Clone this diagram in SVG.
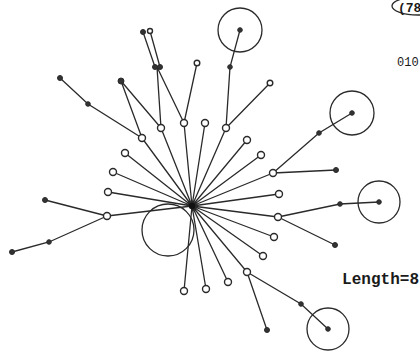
<svg xmlns="http://www.w3.org/2000/svg" width="420" height="351" viewBox="0 0 420 351">
<style>
.e{stroke:#2a2a2a;stroke-width:1.3;fill:none}
.o{fill:#fff;stroke:#2a2a2a;stroke-width:1.4}
.f{fill:#333;stroke:#2a2a2a;stroke-width:1}
.ring{fill:none;stroke:#2a2a2a;stroke-width:1.3}
.t{font-family:"Liberation Mono","DejaVu Sans Mono",monospace;fill:#1a1a1a}
</style>
<rect width="420" height="351" fill="#fff"/>
<g id="connectors">
<path class="e" d="M192,206L142,138M192,206L161,128M192,206L184,123M192,206L205,123M192,206L226,128M192,206L247,140M192,206L261,155M192,206L273,173M192,206L279,194M192,206L278,217M192,206L274,237M192,206L263,256M192,206L247,272M192,206L228,282M192,206L206,289M192,206L184,291M192,206L107,216M192,206L108,192M192,206L113,172M192,206L125,153"/>
<path class="e" d="M142,138L88,104L60,78M142,138L121,81L161,128M161,128L157,67M184,123L157,67M184,123L197,63M155,67L143,32M160,67L150,31M226,128L230,67L240,30M226,128L270,83M273,173L319,133L352,113M273,173L336,170M278,217L340,204L379,202M278,217L335,245M247,272L301,304L328,329M247,272L267,330M107,216L45,200M107,216L49,242L12,252"/>
</g>
<g id="big-loop"><circle class="ring" cx="168" cy="230" r="26"/></g>
<g id="hub"><circle cx="192" cy="206" r="3.2" fill="#111"/></g>
<g id="n1"><circle class="o" cx="142" cy="138" r="3.5"/></g>
<g id="n2"><circle class="o" cx="161" cy="128" r="3.5"/></g>
<g id="n3"><circle class="o" cx="184" cy="123" r="3.5"/></g>
<g id="n4"><circle class="o" cx="205" cy="123" r="3.5"/></g>
<g id="n5"><circle class="o" cx="226" cy="128" r="3.5"/></g>
<g id="n6"><circle class="o" cx="247" cy="140" r="3.5"/></g>
<g id="n7"><circle class="o" cx="261" cy="155" r="3.5"/></g>
<g id="n8"><circle class="o" cx="273" cy="173" r="3.5"/></g>
<g id="n9"><circle class="o" cx="279" cy="194" r="3.5"/></g>
<g id="n10"><circle class="o" cx="278" cy="217" r="3.5"/></g>
<g id="n11"><circle class="o" cx="274" cy="237" r="3.5"/></g>
<g id="n12"><circle class="o" cx="263" cy="256" r="3.5"/></g>
<g id="n13"><circle class="o" cx="247" cy="272" r="3.5"/></g>
<g id="n14"><circle class="o" cx="228" cy="282" r="3.5"/></g>
<g id="n15"><circle class="o" cx="206" cy="289" r="3.5"/></g>
<g id="n16"><circle class="o" cx="184" cy="291" r="3.5"/></g>
<g id="n17"><circle class="o" cx="107" cy="216" r="3.5"/></g>
<g id="n18"><circle class="o" cx="108" cy="192" r="3.5"/></g>
<g id="n19"><circle class="o" cx="113" cy="172" r="3.5"/></g>
<g id="n20"><circle class="o" cx="125" cy="153" r="3.5"/></g>
<g id="n21"><circle class="f" cx="88" cy="104" r="2.3"/></g>
<g id="n22"><circle class="f" cx="60" cy="78" r="2.5"/></g>
<g id="n23"><circle class="f" cx="121" cy="81" r="3"/></g>
<g id="n24"><circle class="f" cx="155" cy="67" r="2.5"/><circle class="f" cx="160" cy="67" r="2.5"/></g>
<g id="n25"><circle class="f" cx="143" cy="32" r="2.5"/><circle class="o" cx="150" cy="31" r="2.5"/></g>
<g id="n26"><circle class="o" cx="197" cy="63" r="2.8"/></g>
<g id="n27"><circle class="f" cx="230" cy="67" r="2.3"/></g>
<g id="n28"><circle class="f" cx="240" cy="30" r="2.3"/><circle class="ring" cx="240" cy="30" r="22"/></g>
<g id="n29"><circle class="o" cx="270" cy="83" r="2.8"/></g>
<g id="n30"><circle class="f" cx="319" cy="133" r="2.3"/></g>
<g id="n31"><circle class="f" cx="352" cy="113" r="2.3"/><circle class="ring" cx="352" cy="113" r="22"/></g>
<g id="n32"><circle class="f" cx="336" cy="170" r="2.5"/></g>
<g id="n33"><circle class="f" cx="340" cy="204" r="2.3"/></g>
<g id="n34"><circle class="f" cx="379" cy="202" r="2.3"/><circle class="ring" cx="379" cy="202" r="21"/></g>
<g id="n35"><circle class="f" cx="335" cy="245" r="2.5"/></g>
<g id="n36"><circle class="f" cx="301" cy="304" r="2.3"/></g>
<g id="n37"><circle class="f" cx="328" cy="329" r="2.3"/><circle class="ring" cx="328" cy="329" r="21"/></g>
<g id="n38"><circle class="f" cx="267" cy="330" r="2.5"/></g>
<g id="n39"><circle class="f" cx="45" cy="200" r="2.5"/></g>
<g id="n40"><circle class="f" cx="49" cy="242" r="2.3"/></g>
<g id="n41"><circle class="f" cx="12" cy="252" r="2.5"/></g>
<g id="labels">
<ellipse class="ring" cx="418" cy="6" rx="26" ry="9" stroke-width="1.6"/>
<text class="t" x="398" y="12" font-size="13" font-weight="bold">(78</text>
<text class="t" x="397" y="66" font-size="12">010</text>
<text class="t" x="342" y="284" font-size="16" font-weight="bold" textLength="77" lengthAdjust="spacingAndGlyphs">Length=8</text>
</g>
</svg>
